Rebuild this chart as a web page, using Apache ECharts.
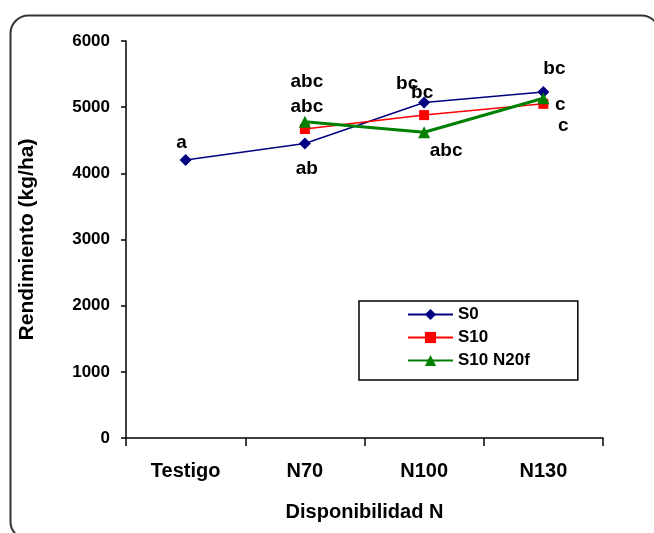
<!DOCTYPE html>
<html>
<head>
<meta charset="utf-8">
<script src="https://cdn.jsdelivr.net/npm/echarts@6/dist/echarts.min.js"></script>
<style>
html,body{margin:0;padding:0;background:#fff;}
#c{width:654px;height:533px;}
</style>
</head>
<body>
<div id="c"></div>
<script>
var categories = ['Testigo', 'N70', 'N100', 'N130'];
var yTicks = [0, 1000, 2000, 3000, 4000, 5000, 6000];
var seriesNames = ['S0', 'S10', 'S10 N20f'];
var s0Values = [4200, 4450, 5070, 5230];
var s10Values = [null, 4670, 4880, 5050];
var s10n20fValues = [null, 4780, 4620, 5135];
var s0Letters = ['a', 'ab', 'bc', 'bc'];
var s10Letters = [null, 'abc', 'bc', 'c'];
var s10n20fLetters = [null, 'abc', 'abc', 'c'];

// label offsets (style only)
var s0Off = [[-4, -17], [2, 25], [-17, -19], [11, -23]];
var s10Off = [null, [2, -22], [-2, -22], [17, 1]];
var s10n20fOff = [null, [2, -40], [22, 18], [20, 28]];

var FONT = '"Liberation Sans", Arial, sans-serif';

function build(vals, letters, offs) {
  return vals.map(function (v, i) {
    if (v === null) return null;
    return {
      value: v,
      label: {
        show: true, position: 'inside', formatter: letters[i],
        offset: offs[i], color: '#000', fontSize: 19, fontWeight: 'bold', fontFamily: FONT
      }
    };
  });
}

var chart = echarts.init(document.getElementById('c'), null, {renderer: 'canvas'});
chart.setOption({
  animation: false,
  backgroundColor: '#fff',
  graphic: [{
    type: 'rect', left: 8, top: 13, z: 0,
    shape: {width: 649, height: 524, r: 18},
    style: {fill: 'none', stroke: '#333', lineWidth: 2}
  }],
  grid: {left: 126, right: 51, top: 41, bottom: 95, containLabel: false},
  legend: {
    data: seriesNames,
    orient: 'vertical',
    left: 359, top: 301,
    itemWidth: 45, itemHeight: 14, itemGap: 6,
    padding: [5, 48, 11, 48],
    borderColor: '#000', borderWidth: 1.5,
    textStyle: {fontSize: 17, fontWeight: 'bold', fontFamily: FONT, color: '#000'}
  },
  xAxis: {
    type: 'category', data: categories, boundaryGap: true,
    name: 'Disponibilidad N', nameLocation: 'middle', nameGap: 64,
    nameTextStyle: {fontSize: 20, fontWeight: 'bold', fontFamily: FONT, color: '#000'},
    axisLine: {lineStyle: {color: '#000', width: 1.5}},
    axisTick: {show: true, length: 8, lineStyle: {color: '#000', width: 1.5}},
    axisLabel: {margin: 23, fontSize: 20, fontWeight: 'bold', fontFamily: FONT, color: '#000'}
  },
  yAxis: {
    type: 'value', min: yTicks[0], max: yTicks[yTicks.length - 1], interval: 1000,
    name: 'Rendimiento (kg/ha)', nameLocation: 'middle', nameGap: 88, nameRotate: 90,
    nameTextStyle: {fontSize: 21, fontWeight: 'bold', fontFamily: FONT, color: '#000'},
    axisLine: {show: true, lineStyle: {color: '#000', width: 1.5}},
    axisTick: {show: true, length: 5, lineStyle: {color: '#000', width: 1.5}},
    splitLine: {show: false},
    axisLabel: {
      margin: 16, fontSize: 17, fontWeight: 'bold', fontFamily: FONT, color: '#000',
      formatter: function (v) { return String(v); }
    }
  },
  series: [
    {
      name: seriesNames[0], type: 'line', data: build(s0Values, s0Letters, s0Off),
      symbol: 'diamond', symbolSize: 12, connectNulls: false,
      lineStyle: {color: '#000080', width: 1.5},
      itemStyle: {color: '#000080'}, z: 3
    },
    {
      name: seriesNames[1], type: 'line', data: build(s10Values, s10Letters, s10Off),
      symbol: 'rect', symbolSize: 10,
      lineStyle: {color: '#ff0000', width: 1.5},
      itemStyle: {color: '#ff0000'}, z: 4
    },
    {
      name: seriesNames[2], type: 'line', data: build(s10n20fValues, s10n20fLetters, s10n20fOff),
      symbol: 'triangle', symbolSize: 12,
      lineStyle: {color: '#008000', width: 3},
      itemStyle: {color: '#008000'}, z: 5
    }
  ]
});
</script>
</body>
</html>
